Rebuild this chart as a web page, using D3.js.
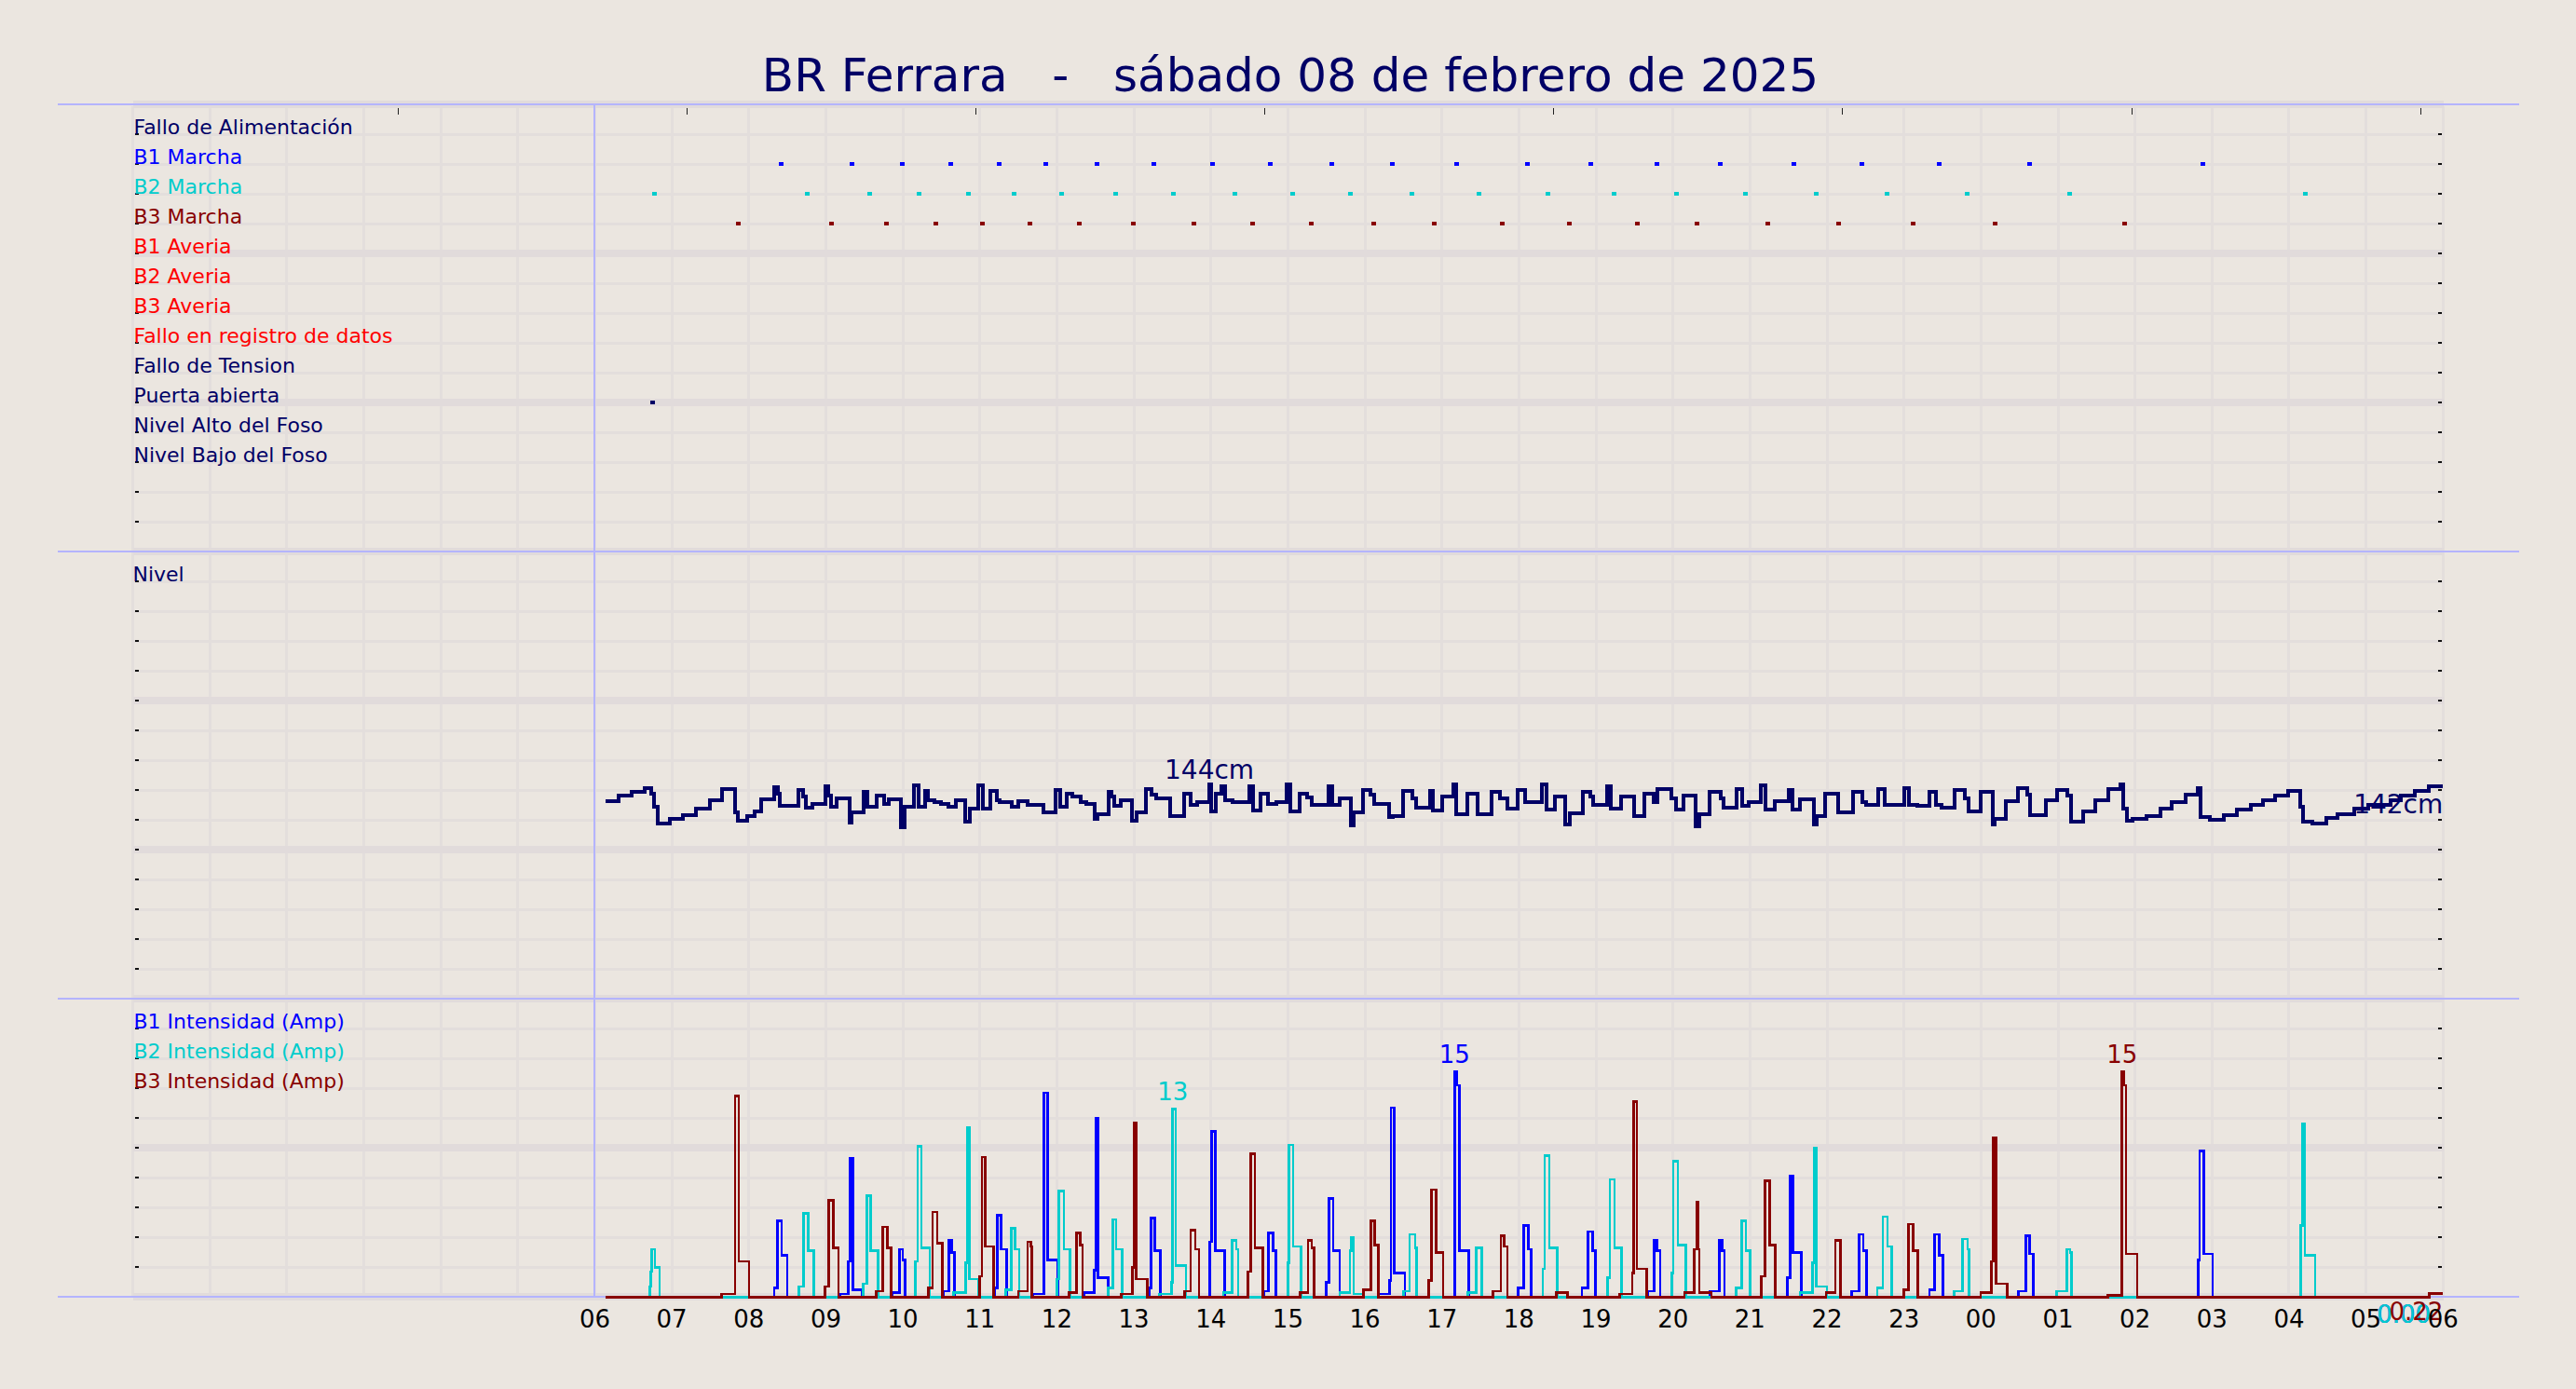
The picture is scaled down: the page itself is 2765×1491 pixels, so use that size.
<!DOCTYPE html>
<html><head><meta charset="utf-8">
<script src="https://cdn.jsdelivr.net/npm/d3@7"></script>
<style>
html,body{margin:0;padding:0;background:#ebe6e0;}
svg{display:block;font-family:"DejaVu Sans",sans-serif;}
</style></head><body>
<svg id="chart" width="2765" height="1491"></svg>
<script>
// ---------------- DATA ----------------
const chartTitle = "BR Ferrara   -   sábado 08 de febrero de 2025";
const hourTicks = [6,7,8,9,10,11,12,13,14,15,16,17,18,19,20,21,22,23,24,25,26,27,28,29,30];
const hourTickLabels = ["06","07","08","09","10","11","12","13","14","15","16","17","18","19","20","21","22","23","00","01","02","03","04","05","06"];
const topAxisTicks = [3.444,7.196,10.948,14.70,18.452,22.204,25.956,29.708];

const eventLabels = ["Fallo de Alimentación","B1 Marcha","B2 Marcha","B3 Marcha","B1 Averia","B2 Averia","B3 Averia","Fallo en registro de datos","Fallo de Tension","Puerta abierta","Nivel Alto del Foso","Nivel Bajo del Foso"];
const falloAlimentacion = [];
const b1Marcha = [8.41,9.33,9.99,10.61,11.25,11.85,12.51,13.25,14.02,14.77,15.56,16.35,17.18,18.10,18.93,19.78,20.61,21.56,22.45,23.45,24.62,26.88];
const b2Marcha = [6.77,8.75,9.56,10.20,10.84,11.44,12.06,12.76,13.51,14.30,15.05,15.81,16.60,17.48,18.37,19.23,20.04,20.93,21.85,22.77,23.81,25.15,28.21];
const b3Marcha = [7.86,9.07,9.78,10.42,11.03,11.65,12.29,12.99,13.77,14.53,15.30,16.11,16.90,17.78,18.65,19.53,20.31,21.23,22.15,23.11,24.18,25.86];
const b1Averia = [], b2Averia = [], b3Averia = [], falloRegistro = [], falloTension = [];
const puertaAbierta = [6.75];
const nivelAlto = [], nivelBajo = [];

const levelLabel = "Nivel";
const levelUnit = "cm";
// [hour since 00:00, level cm]
const levelData = [[6.137,133],[6.31,136.2],[6.484,139.2],[6.653,141.5],[6.734,138],[6.766,128.8],[6.823,117.9],[6.976,120.7],[7.149,123.5],[7.319,127.6],[7.492,133.4],[7.649,141],[7.823,125.3],[7.855,119.6],[7.984,123],[8.073,125.8],[8.157,134.1],[8.327,142],[8.379,137.4],[8.407,129.3],[8.649,140.4],[8.71,135.7],[8.742,128.3],[8.823,131.1],[8.992,142.7],[9.032,136.4],[9.073,128.8],[9.145,134.6],[9.315,118.4],[9.335,125.3],[9.496,138.7],[9.536,128.8],[9.657,136.2],[9.758,131.1],[9.819,134.1],[9.98,115.4],[10.028,128.8],[10.149,143.4],[10.21,128.8],[10.29,139.7],[10.331,133.4],[10.411,132.3],[10.492,131.1],[10.593,128.8],[10.685,133.4],[10.815,118.9],[10.875,127.6],[10.976,143.4],[11.036,127.6],[11.137,139.7],[11.218,133.4],[11.258,131.8],[11.419,128.8],[11.5,132.7],[11.621,130.4],[11.823,125.3],[11.984,140.4],[12.044,128.8],[12.125,137.4],[12.206,135.7],[12.306,132.3],[12.387,131.1],[12.488,120.7],[12.528,124.2],[12.669,139.2],[12.71,135.7],[12.75,129.5],[12.831,133.4],[12.972,119.6],[13.032,125.3],[13.153,141],[13.234,136.9],[13.294,134.6],[13.476,123],[13.657,138],[13.738,130.4],[13.819,132.3],[13.98,144],[14.0,125.8],[14.06,138],[14.141,142.7],[14.181,133.4],[14.282,132.3],[14.504,142.7],[14.544,126.5],[14.645,137.4],[14.746,131.1],[14.847,132.3],[14.988,143.8],[15.028,125.8],[15.149,137.4],[15.25,135],[15.31,130],[15.532,142.7],[15.573,130],[15.673,134.6],[15.815,116.5],[15.855,125.3],[15.976,140.4],[16.077,136.9],[16.117,131.1],[16.319,121.9],[16.359,123],[16.5,139.7],[16.621,134.6],[16.661,128.1],[16.843,139.7],[16.883,126.5],[17.004,135.7],[17.145,143.8],[17.185,124.2],[17.327,138],[17.468,124.2],[17.649,139.2],[17.75,134.6],[17.851,127.6],[17.98,140.4],[18.081,132.3],[18.302,143.8],[18.363,126.9],[18.464,135.7],[18.605,117.2],[18.665,124.6],[18.827,139.2],[18.927,135.7],[18.968,130.4],[19.149,142.7],[19.198,127.6],[19.331,135.7],[19.492,122.6],[19.633,137.4],[19.754,132.3],[19.802,141],[19.976,134.6],[20.036,127.2],[20.137,136.4],[20.298,116.1],[20.339,124.2],[20.48,139.2],[20.621,134.6],[20.661,128.1],[20.823,141],[20.903,129.5],[20.984,131.8],[21.145,143.4],[21.206,126.9],[21.327,133],[21.508,140.4],[21.548,126.9],[21.649,133.9],[21.831,117.2],[21.871,123],[21.98,138],[22.141,125.3],[22.343,139.2],[22.464,131.8],[22.504,130],[22.665,141],[22.746,130],[23.008,141.5],[23.069,130.4],[23.169,129.5],[23.331,139.2],[23.411,130.4],[23.492,128.1],[23.653,140.4],[23.794,134.6],[23.835,125.8],[23.996,138.7],[24.157,117.2],[24.177,120.7],[24.319,132.7],[24.48,141.5],[24.601,136.9],[24.641,123.5],[24.843,133.4],[24.984,140.4],[25.125,136.4],[25.165,118.9],[25.327,125.8],[25.488,133.4],[25.649,141],[25.81,143.8],[25.851,127.6],[25.891,119.6],[25.968,120.7],[26.149,123],[26.331,127.6],[26.472,132.3],[26.653,136.9],[26.815,141.5],[26.855,121.9],[26.976,120.2],[27.157,123.5],[27.319,127],[27.5,130.4],[27.661,133.4],[27.823,136.4],[27.984,139.7],[28.145,128.8],[28.185,118.9],[28.306,118],[28.488,121.2],[28.629,124.2],[28.851,127.6],[29.032,130],[29.315,133.4],[29.456,136.4],[29.637,139.7],[29.819,142.4],[30,142.4]];

const ampLabels = ["B1 Intensidad (Amp)","B2 Intensidad (Amp)","B3 Intensidad (Amp)"];
// [hour, amps] step-after
const b1Amp = [[6.14,0],[8.327,0.6],[8.37,5.1],[8.427,2.8],[8.5,0],[9.185,0.2],[9.294,2.4],[9.315,9.3],[9.355,0.5],[9.476,0],[9.859,0.3],[9.96,3.2],[10.0,2.5],[10.028,0],[10.532,0.4],[10.597,3.8],[10.637,3.0],[10.673,0],[11.198,0.6],[11.23,5.5],[11.278,3.2],[11.351,0],[11.694,0.2],[11.831,13.7],[11.883,2.5],[12.012,0],[12.355,0.3],[12.488,1.8],[12.508,12.0],[12.536,1.3],[12.669,0],[13.202,0.6],[13.226,5.3],[13.274,3.1],[13.347,0],[13.988,3.7],[14.008,11.1],[14.06,3.1],[14.181,0],[14.685,0.4],[14.746,4.3],[14.806,3.1],[14.847,0],[15.5,1.0],[15.532,6.6],[15.589,3.1],[15.673,0],[16.177,0.2],[16.319,1.1],[16.339,12.7],[16.379,1.6],[16.52,0],[17.165,15.1],[17.194,14.2],[17.226,3.1],[17.347,0],[17.988,0.6],[18.06,4.8],[18.121,3.2],[18.161,0],[18.819,0.6],[18.9,4.4],[18.956,3.1],[18.996,0],[19.673,0.4],[19.754,3.8],[19.794,3.1],[19.835,0],[20.48,0.4],[20.601,3.8],[20.641,3.1],[20.669,0],[21.488,1.3],[21.52,8.1],[21.56,3.0],[21.669,0],[22.323,0.4],[22.415,4.2],[22.472,3.1],[22.512,0],[23.331,0.5],[23.399,4.2],[23.46,2.8],[23.504,0],[24.488,0.4],[24.581,4.1],[24.633,2.9],[24.681,0],[26.823,2.5],[26.84,9.8],[26.895,2.9],[27.008,0],[29.84,0]];
const b2Amp = [[6.14,0],[6.714,0.7],[6.726,1.7],[6.742,3.2],[6.782,2.0],[6.843,0],[8.653,0.7],[8.71,5.6],[8.774,3.1],[8.843,0],[9.488,0.9],[9.536,6.8],[9.581,3.1],[9.677,0],[10.161,2.4],[10.19,10.1],[10.242,3.3],[10.351,0],[10.661,0.3],[10.815,2.3],[10.835,11.4],[10.867,1.2],[10.984,0],[11.339,0.5],[11.411,4.6],[11.46,3.2],[11.512,0],[12.004,1.2],[12.024,7.1],[12.093,3.2],[12.173,0],[12.669,0.6],[12.73,5.2],[12.77,3.2],[12.851,0],[13.335,0.2],[13.488,1.0],[13.504,12.6],[13.544,2.1],[13.677,0],[14.161,0.3],[14.274,3.8],[14.331,3.2],[14.355,0],[15.0,2.3],[15.016,10.2],[15.069,3.4],[15.169,0],[15.673,0.3],[15.806,3.1],[15.827,4.0],[15.855,0.2],[15.976,0],[16.5,0.4],[16.581,4.2],[16.653,3.3],[16.669,0],[17.339,0.3],[17.448,3.3],[17.516,0],[18.31,1.9],[18.335,9.5],[18.395,3.3],[18.496,0],[19.149,1.3],[19.181,7.9],[19.242,3.3],[19.331,0],[19.984,1.6],[20.004,9.1],[20.065,3.5],[20.169,0],[20.823,0.6],[20.891,5.1],[20.948,3.1],[21.004,0],[21.649,0.3],[21.81,2.3],[21.83,10.0],[21.859,0.7],[22.0,0],[22.653,0.6],[22.726,5.4],[22.786,3.4],[22.839,0],[23.653,0.4],[23.762,3.9],[23.827,3.2],[23.843,0],[24.984,0.4],[25.117,3.2],[25.157,3.0],[25.177,0],[28.153,4.8],[28.177,11.6],[28.206,2.8],[28.339,0],[29.84,0]];
const b3Amp = [[6.14,0],[7.645,0.2],[7.823,13.5],[7.87,2.4],[8.004,0],[8.992,0.7],[9.04,6.5],[9.1,3.3],[9.165,0],[9.657,0.4],[9.738,4.7],[9.798,3.3],[9.847,0],[10.331,0.6],[10.387,5.7],[10.444,3.6],[10.512,0],[10.996,1.4],[11.028,9.4],[11.069,3.4],[11.177,0],[11.5,0.4],[11.621,3.7],[11.661,3.4],[11.677,0],[12.157,0.3],[12.254,4.3],[12.306,3.5],[12.335,0],[12.839,0.2],[12.984,2.0],[13.0,11.7],[13.032,1.2],[13.173,0],[13.657,0.4],[13.738,4.5],[13.798,3.2],[13.847,0],[14.484,1.7],[14.516,9.6],[14.573,3.3],[14.677,0],[15.161,0.3],[15.262,3.8],[15.31,3.3],[15.339,0],[15.984,0.5],[16.077,5.1],[16.129,3.5],[16.177,0],[16.831,1.1],[16.863,7.2],[16.923,3.0],[17.016,0],[17.661,0.4],[17.766,4.1],[17.81,3.4],[17.851,0],[18.484,0.3],[18.633,0],[19.31,0.2],[19.472,1.6],[19.492,13.1],[19.532,1.9],[19.661,0],[20.149,0.3],[20.278,3.2],[20.306,6.4],[20.323,3.2],[20.343,0.3],[20.5,0],[21.145,1.4],[21.198,7.8],[21.254,3.5],[21.327,0],[21.988,0.3],[22.109,3.8],[22.173,0],[22.996,0.5],[23.06,4.9],[23.121,3.1],[23.181,0],[23.996,0.3],[24.137,2.4],[24.157,10.7],[24.198,0.9],[24.339,0],[25.649,0.1],[25.831,15.1],[25.851,14.2],[25.883,2.9],[26.03,0],[29.819,0.22],[30,0.22]];

// ---------------- STYLE / LAYOUT ----------------
const C = {bg:"#ebe6e0", grid:"#e3dedc", gridThick:"#e1dbdb", frame:"#b4b4ff", navy:"#000066",
  b1:"#0000ff", b2:"#00cccc", b3:"#880000", red:"#ff0000"};
const eventColors = [C.navy,C.b1,C.b2,C.b3,C.red,C.red,C.red,C.red,C.navy,C.navy,C.navy,C.navy];
const eventData = [falloAlimentacion,b1Marcha,b2Marcha,b3Marcha,b1Averia,b2Averia,b3Averia,falloRegistro,falloTension,puertaAbierta,nivelAlto,nivelBajo];

const svg = d3.select("#chart");
svg.append("rect").attr("width",2765).attr("height",1491).attr("fill",C.bg);

const x = d3.scaleLinear().domain([0,30]).range([142.5,2622.3]);
const yEv = d3.scaleLinear().domain([0,15]).range([112.3,592.3]);
const yLv = d3.scaleLinear().domain([0,300]).range([1072.3,592.3]);
const yAmp = d3.scaleLinear().domain([0,20]).range([1392.3,1072.3]);

const gGrid = svg.append("g").attr("shape-rendering","crispEdges");
gGrid.selectAll("line.v").data(d3.range(0,31)).join("line")
  .attr("x1",d=>x(d)).attr("x2",d=>x(d)).attr("y1",114).attr("y2",1393)
  .attr("stroke",C.grid).attr("stroke-width",3);
const hRows = [];
d3.range(0,16).forEach(v=>hRows.push({y:yEv(v),thick:v%5===0}));
d3.range(0,300,20).forEach(v=>hRows.push({y:yLv(v),thick:v%100===0}));
d3.range(0,20,2).forEach(v=>hRows.push({y:yAmp(v),thick:v%10===0}));
gGrid.selectAll("line.h").data(hRows).join("line")
  .attr("x1",x(0)).attr("x2",x(30)+1).attr("y1",d=>d.y).attr("y2",d=>d.y)
  .attr("stroke",d=>d.thick?C.gridThick:C.grid).attr("stroke-width",d=>d.thick?8:3);

const gTicks = svg.append("g").attr("shape-rendering","crispEdges");
hRows.forEach(r=>{
  gTicks.append("line").attr("x1",x(0)+2.5).attr("x2",x(0)+6.5).attr("y1",r.y).attr("y2",r.y).attr("stroke","#111").attr("stroke-width",2);
  gTicks.append("line").attr("x1",x(30)-5).attr("x2",x(30)-1).attr("y1",r.y).attr("y2",r.y).attr("stroke","#111").attr("stroke-width",2);
});
gTicks.selectAll("line.tt").data(topAxisTicks).join("line")
  .attr("x1",d=>x(d)).attr("x2",d=>x(d)).attr("y1",116).attr("y2",123)
  .attr("stroke","#222").attr("stroke-width",1);

const gFrame = svg.append("g").attr("shape-rendering","crispEdges");
[yEv(0),yEv(15),yAmp(20),yAmp(0)].forEach(yy=>{
  gFrame.append("line").attr("x1",62).attr("x2",2704).attr("y1",yy).attr("y2",yy).attr("stroke",C.frame).attr("stroke-width",2);
});
gFrame.append("line").attr("x1",x(6)).attr("x2",x(6)).attr("y1",yEv(0)).attr("y2",yAmp(0)).attr("stroke",C.frame).attr("stroke-width",2);

svg.append("text").attr("x",1385).attr("y",98).attr("text-anchor","middle")
  .style("white-space","pre").attr("font-size",50).attr("fill",C.navy).text(chartTitle);

const gEv = svg.append("g");
eventLabels.forEach((lab,i)=>{
  gEv.append("text").attr("x",143.5).attr("y",yEv(i+1)).attr("font-size",22).attr("fill",eventColors[i]).text(lab);
  gEv.selectAll(null).data(eventData[i]).join("rect")
    .attr("x",d=>x(d)-2).attr("y",yEv(i+1)-2).attr("width",5).attr("height",4)
    .attr("fill",eventColors[i]).attr("shape-rendering","crispEdges");
});

svg.append("text").attr("x",142.5).attr("y",yLv(280)).attr("font-size",22).attr("fill",C.navy).text(levelLabel);
const lineLv = d3.line().x(d=>x(d[0])).y(d=>yLv(d[1])).curve(d3.curveStepAfter);
svg.append("path").datum(levelData).attr("d",lineLv).attr("fill","none").attr("stroke",C.navy)
  .attr("stroke-width",4).attr("shape-rendering","crispEdges");
const lvMax = levelData.reduce((a,b)=>b[1]>a[1]?b:a);
const lvLast = levelData[levelData.length-1];
svg.append("text").attr("x",x(lvMax[0])).attr("y",yLv(lvMax[1])-6).attr("text-anchor","middle")
  .attr("font-size",28).attr("fill",C.navy).text(Math.round(lvMax[1])+levelUnit);
svg.append("text").attr("x",x(lvLast[0])).attr("y",yLv(lvLast[1])+29).attr("text-anchor","end")
  .attr("font-size",28).attr("fill",C.navy).text(Math.round(lvLast[1])+levelUnit);

const ampSeries = [b1Amp,b2Amp,b3Amp];
const ampColors = [C.b1,C.b2,C.b3];
ampLabels.forEach((lab,i)=>{
  svg.append("text").attr("x",143.5).attr("y",yAmp(18-2*i)).attr("font-size",22).attr("fill",ampColors[i]).text(lab);
});
const lineAmp = d3.line().x(d=>x(d[0])).y(d=>yAmp(d[1])).curve(d3.curveStepAfter);
ampSeries.forEach((s,i)=>{
  svg.append("path").datum(s).attr("d",lineAmp).attr("fill","none").attr("stroke",ampColors[i])
    .attr("stroke-width",2.6).attr("shape-rendering","crispEdges");
});
ampSeries.forEach((s,i)=>{
  const m = s.reduce((a,b)=>b[1]>a[1]?b:a);
  svg.append("text").attr("x",x(m[0])).attr("y",yAmp(m[1])-10).attr("text-anchor","middle")
    .attr("font-size",26).attr("fill",ampColors[i]).text(Math.round(m[1]));
});
ampSeries.forEach((s,i)=>{
  const last = s[s.length-1];
  svg.append("text").attr("x",x(last[0])).attr("y",yAmp(last[1])+28).attr("text-anchor","end")
    .attr("font-size",26).attr("fill",ampColors[i]).text(last[1].toFixed(2));
});

svg.append("g").selectAll("text").data(hourTicks).join("text")
  .attr("x",d=>x(d)).attr("y",1425).attr("text-anchor","middle").attr("font-size",26).attr("fill","#000")
  .text((d,i)=>hourTickLabels[i]);
</script>
</body></html>
